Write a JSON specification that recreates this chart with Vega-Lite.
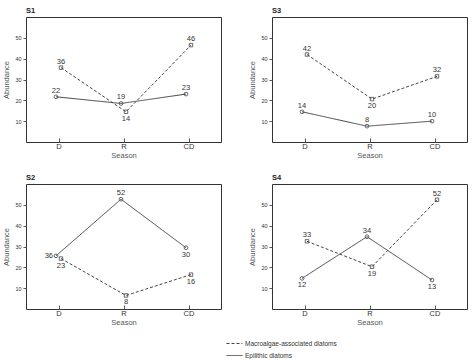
{
  "$schema": "https://vega.github.io/schema/vega-lite/v6.json",
  "padding": {"left": 2, "top": 6, "right": 5, "bottom": 0},
  "data": {"values": [
    {"panel": "S1", "season": "D", "series": "Epilithic diatoms", "value": 21.7, "label": "22"},
    {"panel": "S1", "season": "R", "series": "Epilithic diatoms", "value": 18.5, "label": "19"},
    {"panel": "S1", "season": "CD", "series": "Epilithic diatoms", "value": 23, "label": "23"},
    {"panel": "S1", "season": "D", "series": "Macroalgae-associated diatoms", "value": 35.7, "label": "36"},
    {"panel": "S1", "season": "R", "series": "Macroalgae-associated diatoms", "value": 14.5, "label": "14"},
    {"panel": "S1", "season": "CD", "series": "Macroalgae-associated diatoms", "value": 46.5, "label": "46"},
    {"panel": "S3", "season": "D", "series": "Epilithic diatoms", "value": 14.5, "label": "14"},
    {"panel": "S3", "season": "R", "series": "Epilithic diatoms", "value": 7.6, "label": "8"},
    {"panel": "S3", "season": "CD", "series": "Epilithic diatoms", "value": 10, "label": "10"},
    {"panel": "S3", "season": "D", "series": "Macroalgae-associated diatoms", "value": 42, "label": "42"},
    {"panel": "S3", "season": "R", "series": "Macroalgae-associated diatoms", "value": 20.6, "label": "20"},
    {"panel": "S3", "season": "CD", "series": "Macroalgae-associated diatoms", "value": 31.5, "label": "32"},
    {"panel": "S2", "season": "D", "series": "Epilithic diatoms", "value": 25.5, "label": "36"},
    {"panel": "S2", "season": "R", "series": "Epilithic diatoms", "value": 52.7, "label": "52"},
    {"panel": "S2", "season": "CD", "series": "Epilithic diatoms", "value": 29.4, "label": "30"},
    {"panel": "S2", "season": "D", "series": "Macroalgae-associated diatoms", "value": 24.2, "label": "23"},
    {"panel": "S2", "season": "R", "series": "Macroalgae-associated diatoms", "value": 6.5, "label": "8"},
    {"panel": "S2", "season": "CD", "series": "Macroalgae-associated diatoms", "value": 16.5, "label": "16"},
    {"panel": "S4", "season": "D", "series": "Epilithic diatoms", "value": 14.7, "label": "12"},
    {"panel": "S4", "season": "R", "series": "Epilithic diatoms", "value": 34.7, "label": "34"},
    {"panel": "S4", "season": "CD", "series": "Epilithic diatoms", "value": 13.9, "label": "13"},
    {"panel": "S4", "season": "D", "series": "Macroalgae-associated diatoms", "value": 32.5, "label": "33"},
    {"panel": "S4", "season": "R", "series": "Macroalgae-associated diatoms", "value": 20.3, "label": "19"},
    {"panel": "S4", "season": "CD", "series": "Macroalgae-associated diatoms", "value": 52.4, "label": "52"}
  ]},
  "facet": {
    "field": "panel", "type": "nominal", "sort": ["S1", "S3", "S2", "S4"],
    "header": {"title": null, "labelAnchor": "start", "labelFontWeight": "bold", "labelFontSize": 7.5, "labelPadding": 3, "labelFont": "Liberation Sans", "labelColor": "#222"}
  },
  "columns": 2,
  "spacing": {"column": 26, "row": 13},
  "spec": {
    "width": 195,
    "height": 125,
    "encoding": {
      "x": {"field": "season", "type": "ordinal", "sort": ["D", "R", "CD"], "scale": {"type": "point", "padding": 0.5},
        "axis": {"title": "Season", "labelAngle": 0, "domain": false, "tickSize": -4, "labelPadding": 4, "labelFontSize": 7.5, "titleFontSize": 7.5, "titlePadding": 2}},
      "xOffset": {"field": "series", "type": "nominal", "scale": {"type": "point", "domain": ["Epilithic diatoms", "Macroalgae-associated diatoms"], "range": [-5, 5]}},
      "y": {"field": "value", "type": "quantitative", "scale": {"domain": [0, 60], "nice": false},
        "axis": {"title": "Abundance", "values": [10, 20, 30, 40, 50], "domain": false, "tickSize": 3, "labelFontSize": 5.5, "titleFontSize": 7.5, "grid": false, "titlePadding": 4}}
    },
    "layer": [
      {"mark": {"type": "line", "color": "#444", "strokeWidth": 1},
        "encoding": {"strokeDash": {"field": "series", "type": "nominal",
          "scale": {"domain": ["Macroalgae-associated diatoms", "Epilithic diatoms"], "range": [[3, 2], [1, 0]]},
          "legend": {"title": null, "orient": "none", "legendX": 200, "legendY": 318, "symbolType": "stroke", "symbolSize": 256, "symbolStrokeColor": "#444", "symbolStrokeWidth": 1, "labelFontSize": 6.5, "rowPadding": 0, "labelOffset": 2}}}},
      {"transform": [{"filter": "datum.series == 'Macroalgae-associated diatoms'"}],
        "mark": {"type": "point", "filled": false, "size": 12, "shape": "square", "color": "#444", "strokeWidth": 0.8, "opacity": 1}},
      {"transform": [{"filter": "datum.series == 'Epilithic diatoms'"}],
        "mark": {"type": "point", "filled": false, "size": 14, "shape": "circle", "color": "#444", "strokeWidth": 0.8, "opacity": 1}},
      {"transform": [{"filter": "indexof(['S1|M|R','S3|M|R','S2|E|CD','S2|M|D','S2|M|R','S2|M|CD','S4|E|D','S4|E|CD','S4|M|R','S2|E|D'], datum.panel + '|' + substring(datum.series,0,1) + '|' + datum.season) < 0"}],
        "mark": {"type": "text", "dy": -6, "fontSize": 7.5, "color": "#333"},
        "encoding": {"text": {"field": "label"}}},
      {"transform": [{"filter": "indexof(['S1|M|R','S3|M|R','S2|E|CD','S2|M|D','S2|M|R','S2|M|CD','S4|E|D','S4|E|CD','S4|M|R'], datum.panel + '|' + substring(datum.series,0,1) + '|' + datum.season) >= 0"}],
        "mark": {"type": "text", "dy": 7, "fontSize": 7.5, "color": "#333"},
        "encoding": {"text": {"field": "label"}}},
      {"transform": [{"filter": "datum.panel + '|' + substring(datum.series,0,1) + '|' + datum.season == 'S2|E|D'"}],
        "mark": {"type": "text", "dx": -3, "align": "right", "fontSize": 7.5, "color": "#333"},
        "encoding": {"text": {"field": "label"}}}
    ]
  },
  "resolve": {"axis": {"x": "independent", "y": "independent"}},
  "config": {
    "font": "Liberation Sans",
    "view": {"stroke": "#333", "strokeWidth": 1},
    "axis": {"labelColor": "#333", "titleColor": "#555", "tickColor": "#555", "titleFontWeight": "normal", "labelFont": "Liberation Sans", "titleFont": "Liberation Sans"},
    "legend": {"labelColor": "#333", "labelFont": "Liberation Sans"},
    "text": {"font": "Liberation Sans"}
  }
}
